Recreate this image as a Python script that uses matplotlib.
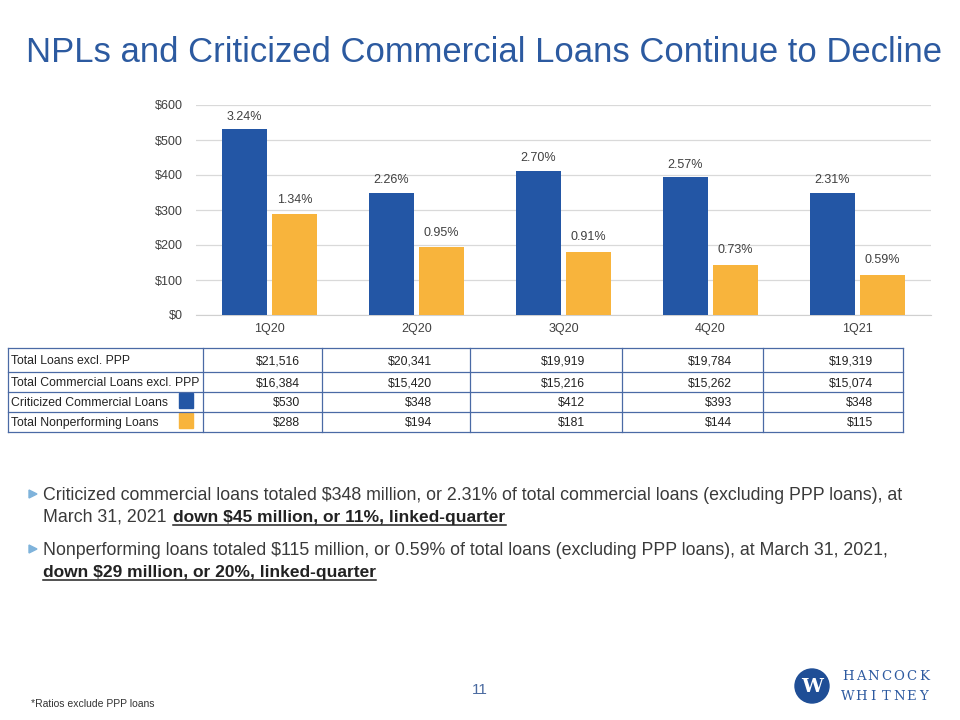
import matplotlib
matplotlib.use('Agg')
import matplotlib.pyplot as plt
import numpy as np
from matplotlib.patches import Rectangle, Circle, Polygon

# data
quarters = ['1Q20', '2Q20', '3Q20', '4Q20', '1Q21']
criticized = [530, 348, 412, 393, 348]
nonperforming = [288, 194, 181, 144, 115]
criticized_pct = ['3.24%', '2.26%', '2.70%', '2.57%', '2.31%']
npl_pct = ['1.34%', '0.95%', '0.91%', '0.73%', '0.59%']
total_loans = ['$21,516', '$20,341', '$19,919', '$19,784', '$19,319']
total_commercial = ['$16,384', '$15,420', '$15,216', '$15,262', '$15,074']
row_names = ['Total Loans excl. PPP', 'Total Commercial Loans excl. PPP',
             'Criticized Commercial Loans', 'Total Nonperforming Loans']
y_ticks = [0, 100, 200, 300, 400, 500, 600]

BLUE = '#2356a5'
GOLD = '#f8b43c'
TITLE_BLUE = '#2c5aa0'
TXT = '#404040'
FONT = 'Liberation Sans'

plt.rcParams['font.family'] = FONT

fig = plt.figure(figsize=(9.6, 7.2), dpi=100)

# overlay axes in pixel coords for the slide stuff
ov = fig.add_axes([0, 0, 1, 1])
ov.set_xlim(0, 960)
ov.set_ylim(720, 0)
ov.axis('off')

renderer = fig.canvas.get_renderer()

# title, fitted to width
title = ov.text(26, 62, 'NPLs and Criticized Commercial Loans Continue to Decline',
                fontsize=25, color=TITLE_BLUE, va='baseline', ha='left')
w = title.get_window_extent(renderer).width
title.set_fontsize(25 * 916 / w)

# bar chart
ax = fig.add_axes([196 / 960, 1 - 315 / 720, 735 / 960, 210 / 720])
x = np.arange(len(quarters))
bw = 0.30
off = 0.17
b1 = ax.bar(x - off, criticized, bw, color=BLUE, zorder=3)
b2 = ax.bar(x + off, nonperforming, bw, color=GOLD, zorder=3)
for rect, lab in zip(b1, criticized_pct):
    ax.annotate(lab, (rect.get_x() + rect.get_width() / 2, rect.get_height()),
                xytext=(0, 5), textcoords='offset points', ha='center', va='bottom',
                fontsize=9, color=TXT)
for rect, lab in zip(b2, npl_pct):
    ax.annotate(lab, (rect.get_x() + rect.get_width() / 2, rect.get_height()),
                xytext=(0, 6), textcoords='offset points', ha='center', va='bottom',
                fontsize=9, color=TXT)
ax.set_xlim(-0.5, len(quarters) - 0.5)
ax.set_ylim(0, 600)
ax.set_yticks(y_ticks)
ax.set_yticklabels(['$%d' % v for v in y_ticks])
ax.set_xticks(x)
ax.set_xticklabels(quarters)
ax.tick_params(axis='both', length=0, labelsize=9, colors=TXT)
ax.tick_params(axis='y', pad=9.5)
ax.tick_params(axis='x', pad=6)
ax.grid(axis='y', color='#d9d9d9', linewidth=0.9, zorder=0)
for s in ['top', 'right', 'left']:
    ax.spines[s].set_visible(False)
ax.spines['bottom'].set_color('#d0d0d0')
ax.patch.set_alpha(0)

# table under the chart
col_edges = [8, 203, 322, 470, 622, 763, 903]
row_edges = [348, 372, 392, 412, 432]
val_right = [300, 432, 585, 732, 873]
LINE = '#4a6aa5'
for yy in row_edges:
    ov.plot([col_edges[0], col_edges[-1]], [yy, yy], color=LINE, lw=0.9)
for xx in col_edges:
    ov.plot([xx, xx], [row_edges[0], row_edges[-1]], color=LINE, lw=0.9)

table_rows = [total_loans, total_commercial,
              ['$%d' % v for v in criticized],
              ['$%d' % v for v in nonperforming]]
for i, (name, vals) in enumerate(zip(row_names, table_rows)):
    yc = (row_edges[i] + row_edges[i + 1]) / 2 + 1
    ov.text(11, yc, name, fontsize=8.8, color='#222222', va='center', ha='left')
    for xr, v in zip(val_right, vals):
        ov.text(xr, yc, v, fontsize=8.8, color='#222222', va='center', ha='right')
ov.add_patch(Rectangle((179, 393), 14, 15, color=BLUE))
ov.add_patch(Rectangle((179, 413), 14, 15, color=GOLD))

# bullets
BFS = 12.8
BTXT = '#3a3a3a'
bullet_lines = [
    (500, 'Criticized commercial loans totaled $348 million, or 2.31% of total commercial loans (excluding PPP loans), at', True),
    (522, 'March 31, 2021 ', False),
    (555, 'Nonperforming loans totaled $115 million, or 0.59% of total loans (excluding PPP loans), at March 31, 2021,', True),
]
for yy, txt, bullet in bullet_lines:
    if bullet:
        ov.add_patch(Polygon([[29, yy - 10], [29, yy - 2], [37, yy - 6]], color='#7fb3db'))
    ov.text(43, yy, txt, fontsize=BFS, color=BTXT, va='baseline', ha='left')


def bold_under(x0, yy, txt):
    t = ov.text(x0, yy, txt, fontsize=BFS - 0.3, color='#222222', fontweight='bold',
                va='baseline', ha='left')
    bb = t.get_window_extent(renderer)
    ov.plot([bb.x0, bb.x1], [yy + 3, yy + 3], color='#222222', lw=1.1)


t2 = ov.texts[-2]
bb = t2.get_window_extent(renderer)
bold_under(bb.x1 + 2, 522, 'down $45 million, or 11%, linked-quarter')
bold_under(43, 577, 'down $29 million, or 20%, linked-quarter')

# footer
ov.text(31, 704, '*Ratios exclude PPP loans', fontsize=7.5, color='#333333', va='center')
ov.text(480, 690, '11', fontsize=11, color='#4a6aa0', va='center', ha='center')

# logo
ov.add_patch(Circle((812, 686), 17, color='#1f4e96'))
ov.text(812, 687, 'W', fontsize=14, fontweight='bold', color='white', ha='center', va='center',
        family='DejaVu Serif')
for word, yy in [('HANCOCK', 676), ('WHITNEY', 697)]:
    for xx, ch in zip(np.linspace(848, 924, len(word)), word):
        ov.text(xx, yy, ch, fontsize=9.5, color='#2d5aa0', va='center', ha='center',
                family='DejaVu Serif')

fig.savefig('out.png', dpi=100)
